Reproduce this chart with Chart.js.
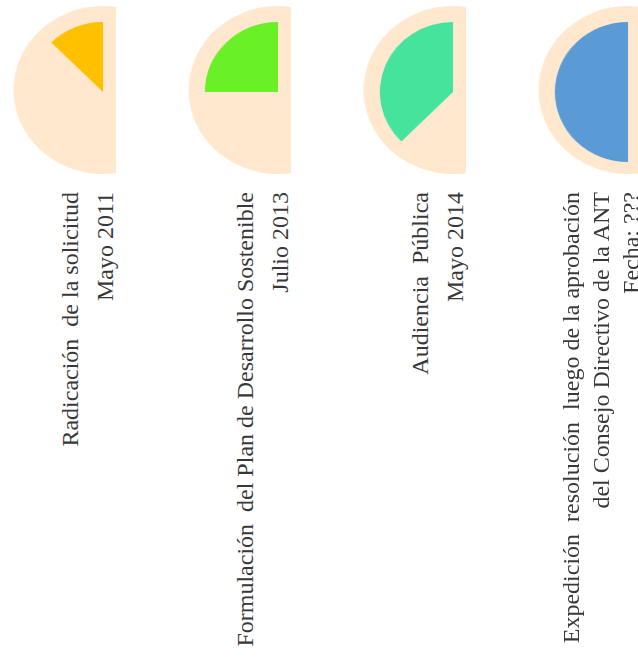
<!DOCTYPE html>
<html>
<head>
<meta charset="utf-8">
<script src="https://cdn.jsdelivr.net/npm/chart.js@4.4.1/dist/chart.umd.min.js"></script>
<style>
  html, body { margin: 0; padding: 0; background: #fff; }
  body { width: 638px; height: 664px; position: relative; overflow: hidden; }
  .clip { position: absolute; top: 0; height: 180px; width: 113px; overflow: hidden; }
  .clip canvas { position: absolute; }
  .fondo { left: 16px; top: 6px; transform: scaleX(1.065); }
  .cuna { left: 30px; top: 22px; transform: scaleX(1.045); }
  .rotulo {
    position: absolute; width: 480px; transform-origin: 0 0; transform: rotate(-90deg);
    text-align: right; white-space: pre; color: #383838;
    font-family: "Liberation Serif", "DejaVu Serif", serif; font-size: 24px;
  }
</style>
</head>
<body>
<script>
// etapas del proceso, fechas y avance (% de la media luna)
const etapas = [
  ['Radicación  de la solicitud'],
  ['Formulación  del Plan de Desarrollo Sostenible'],
  ['Audiencia  Pública'],
  ['Expedición  resolución  luego de la aprobación', 'del Consejo Directivo de la ANT']
];
const fechas = ['Mayo 2011', 'Julio 2013', 'Mayo 2014', 'Fecha: ???'];
const avance = [25, 50, 75, 100];
const total = 100;
const colores = ['#FFC000', '#69F026', '#45E39C', '#5B9BD5'];
const colorFondo = '#FFE8CE';

const baseOpts = {
  responsive: false,
  animation: false,
  events: [],
  layout: { padding: 0 },
  plugins: { legend: { display: false }, tooltip: { enabled: false } }
};

function makeCanvas(parent, cls, size) {
  const c = document.createElement('canvas');
  c.className = cls;
  c.width = size;
  c.height = size;
  parent.appendChild(c);
  return c;
}

etapas.forEach((lineas, i) => {
  const cx = 103 + 175 * i;

  const clip = document.createElement('div');
  clip.className = 'clip';
  clip.style.left = (cx - 100) + 'px';
  document.body.appendChild(clip);

  // disco de fondo
  new Chart(makeCanvas(clip, 'fondo', 168), {
    type: 'pie',
    data: { labels: ['total'], datasets: [{ data: [total], backgroundColor: colorFondo, borderWidth: 0 }] },
    options: baseOpts
  });

  // cuña de avance: empieza abajo, sube por la izquierda y termina arriba
  new Chart(makeCanvas(clip, 'cuna', 140), {
    type: 'pie',
    data: {
      labels: ['resto', 'avance', 'derecha'],
      datasets: [{
        data: [total - avance[i], avance[i], total],
        backgroundColor: ['rgba(0,0,0,0)', colores[i], 'rgba(0,0,0,0)'],
        borderWidth: 0,
        rotation: 180
      }]
    },
    options: baseOpts
  });

  // rótulo girado
  const todas = lineas.concat([fechas[i]]);
  const lh = todas.length > 2 ? 30 : 35;
  const baseOff = (lh - 26.6) / 2 + 21.4;
  const div = document.createElement('div');
  div.className = 'rotulo';
  div.style.lineHeight = lh + 'px';
  div.style.left = (cx + 11 - baseOff - (todas.length - 1) * lh) + 'px';
  div.style.top = (192 + 480) + 'px';
  div.textContent = todas.join('\n');
  document.body.appendChild(div);
});
</script>
</body>
</html>
